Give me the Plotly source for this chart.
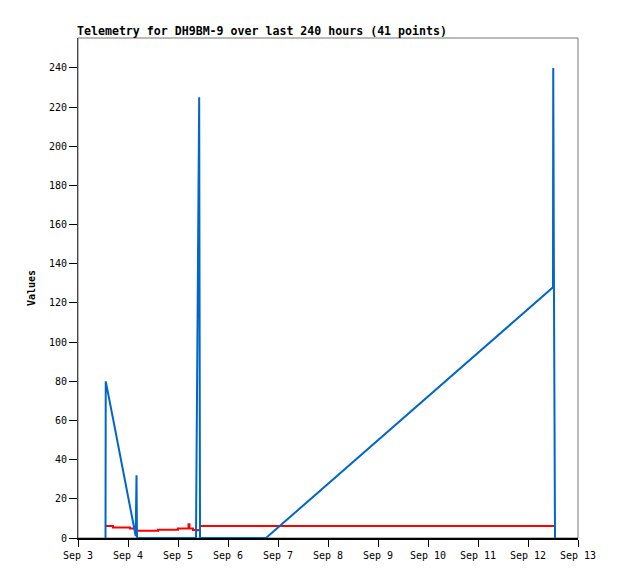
import plotly.graph_objects as go

# Timestamps of the samples
times = [
    "2023-09-03 13:12", "2023-09-03 13:19", "2023-09-03 16:48",
    "2023-09-04 00:58", "2023-09-04 03:42", "2023-09-04 04:05", "2023-09-04 04:19",
    "2023-09-04 14:24", "2023-09-05 00:00", "2023-09-05 04:48", "2023-09-05 05:02",
    "2023-09-05 05:31", "2023-09-05 07:12", "2023-09-05 08:38", "2023-09-05 08:53",
    "2023-09-05 09:20", "2023-09-05 09:40", "2023-09-05 10:10", "2023-09-05 10:34",
    "2023-09-06 18:14", "2023-09-12 12:00", "2023-09-12 12:07", "2023-09-12 12:29",
    "2023-09-12 12:58",
]

blue_values = [0, 80, 61, 15, 1, 32, 0,
               0, 0, 0, 0,
               0, 0, 0, 38,
               112, 187, 225, 0,
               0, 128, 240, 121,
               0]

red_values = [6.1, 6.1, 5.3, 4.8, 4.8, 3.7, 3.7,
              4.2, 4.8, 4.8, 7.0,
              4.8, 4.1, 4.1, 4.1,
              4.0, 4.0, 4.0, 6.1,
              6.1, 6.1, 6.1, 6.1,
              6.1]

tick_dates = ["2023-09-%02d" % d for d in range(3, 14)]
tick_labels = ["Sep 3", "Sep 4", "Sep 5", "Sep 6", "Sep 7", "Sep 8",
               "Sep 9", "Sep 10", "Sep 11", "Sep 12", "Sep 13"]
y_ticks = [0, 20, 40, 60, 80, 100, 120, 140, 160, 180, 200, 220, 240]

mono = "DejaVu Sans Mono"

W, H = 610, 571  # page body has an 8px margin

fig = go.Figure()
fig.add_trace(go.Scatter(x=times, y=red_values, mode="lines",
                         line=dict(color="#FF0000", width=2, shape="hv"),
                         showlegend=False))
fig.add_trace(go.Scatter(x=times, y=blue_values, mode="lines",
                         line=dict(color="#0066CC", width=2), showlegend=False))

fig.update_layout(
    width=W, height=H,
    margin=dict(l=70, r=40, t=30, b=41),
    paper_bgcolor="white", plot_bgcolor="white",
    font=dict(family=mono, size=10, color="black"),
    title=dict(text="<b>Telemetry for DH9BM-9 over last 240 hours (41 points)</b>",
               x=69 / W, xanchor="left", y=1 - 23 / H, yanchor="middle",
               font=dict(family=mono, size=11.6, color="black")),
    xaxis=dict(range=["2023-09-03", "2023-09-13"], tickvals=tick_dates,
               ticktext=tick_labels, ticks="outside", ticklen=7, tickcolor="black",
               showgrid=False, zeroline=False, showline=True, linecolor="black",
               linewidth=2, tickfont=dict(family=mono, size=10)),
    yaxis=dict(range=[0, 255.3], tickvals=y_ticks, ticks="outside", ticklen=8,
               tickcolor="black", showgrid=False, zeroline=False, showline=True,
               linecolor="#444", linewidth=1,
               title=dict(text="<b>Values</b>", standoff=11,
                          font=dict(family=mono, size=10)),
               tickfont=dict(family=mono, size=10)),
    shapes=[dict(type="rect", xref="paper", yref="paper", x0=0, x1=1, y0=0, y1=1,
                 line=dict(color="#777", width=1), layer="below")],
)

fig.write_html("out.html")
